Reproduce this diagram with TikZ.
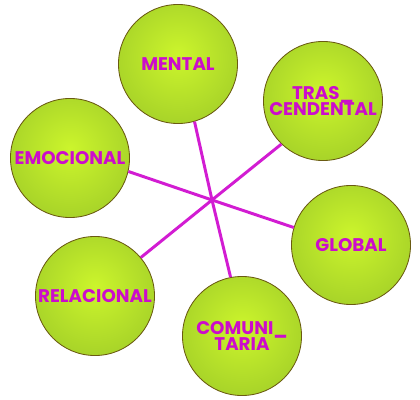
\documentclass[tikz,border=0pt]{standalone}
\usepackage{fontspec}
\setmainfont{Poppins}[BoldFont={* Bold}]
\usepackage{tikz}

\definecolor{ballin}{HTML}{CCF52C}
\definecolor{ballout}{HTML}{88B626}
\definecolor{ballrim}{HTML}{6A5A12}
\definecolor{spoke}{HTML}{D21CD2}
\definecolor{labelc}{HTML}{CC0CCC}

\pgfdeclareradialshading{ball}{\pgfpoint{0bp}{4bp}}{color(0bp)=(ballin); color(52bp)=(ballout); color(70bp)=(ballout)}

\begin{document}
\begin{tikzpicture}[x=0.025cm, y=-0.025cm,
		sphere/.style={circle, draw=ballrim, line width=0.6pt, shading=ball, minimum size=2.975cm, inner sep=0pt, align=center, text=labelc, font=\fontsize{13}{12}\selectfont\bfseries},
		spokeline/.style={draw=spoke, line width=2.1pt}]
				\useasboundingbox (0, 0) rectangle (420, 400);
				
				% circles
				\node[sphere] (mental) at (178, 64) {MENTAL};
				\node[sphere] (tras) at (323, 101) {TRAS\_\\CENDENTAL};
				\node[sphere] (emocional) at (70, 158) {EMOCIONAL};
				\node[sphere] (global) at (351, 245) {GLOBAL};
				\node[sphere] (relacional) at (95, 296) {RELACIONAL};
				\node[sphere] (comunitaria) at (242, 336) {COMUNI\_\\TARIA};
				
				% spokes
				\coordinate (hub) at (212, 200);
				\path[spokeline] (hub) -- (mental.-74);
				\path[spokeline] (hub) -- (comunitaria.101);
				\path[spokeline] (hub) -- (emocional.-13);
				\path[spokeline] (hub) -- (global.163);
				\path[spokeline] (hub) -- (tras.-134);
				\path[spokeline] (hub) -- (relacional.40);
			\end{tikzpicture}
\end{document}
